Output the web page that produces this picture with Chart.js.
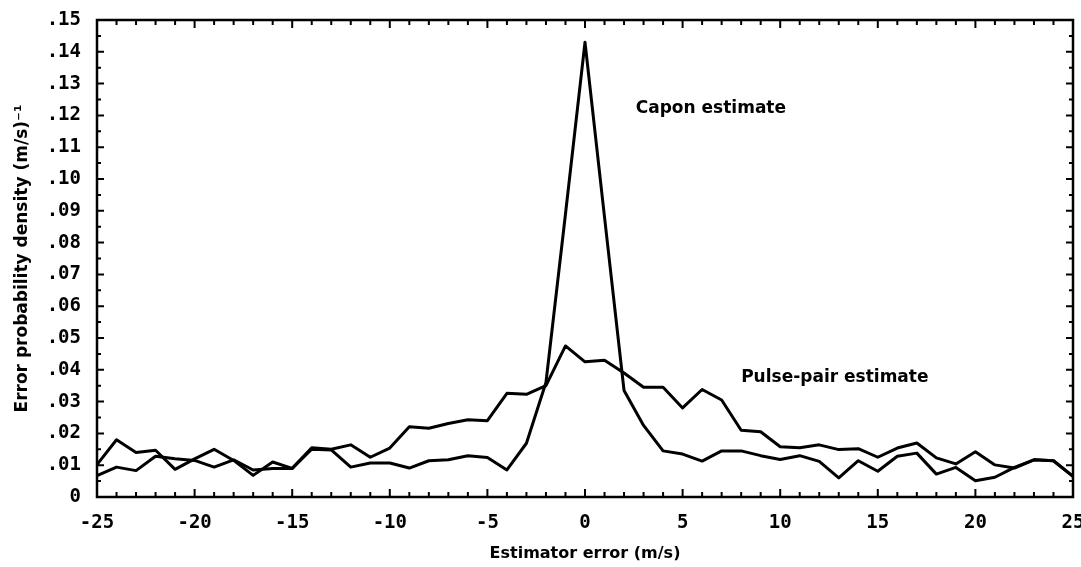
<!DOCTYPE html>
<html>
<head>
<meta charset="utf-8">
<script src="https://cdn.jsdelivr.net/npm/chart.js@4.4.0/dist/chart.umd.min.js"></script>
<style>
  html, body { margin: 0; padding: 0; background: #fff; }
  #wrap { width: 1081px; height: 567px; position: relative; }
</style>
</head>
<body>
<div id="wrap"><canvas id="errChart"></canvas></div>
<script>
// estimator error, m/s
var errors = [-25, -24, -23, -22, -21, -20, -19, -18, -17, -16, -15, -14, -13, -12, -11, -10, -9, -8, -7, -6, -5, -4, -3, -2, -1,
              0, 1, 2, 3, 4, 5, 6, 7, 8, 9, 10, 11, 12, 13, 14, 15, 16, 17, 18, 19, 20, 21, 22, 23, 24, 25];

var pulsePair = [.0102, .018, .014, .0147, .0087, .012, .015, .0115, .0068, .011, .009, .0155, .0150, .0164, .0125, .0154, .0221, .0216, .0231, .0243, .0240, .0326, .0323, .035, .0475,
                 .0425, .043, .039, .0345, .0345, .028, .0338, .0305, .021, .0205, .0158, .0155, .0164, .0149, .0152, .0125, .0154, .017, .0123, .0104, .0142, .0101, .0091, .0117, .0114, .0065];

var capon = [.0067, .0094, .0083, .0128, .012, .0115, .0094, .0117, .0085, .009, .009, .015, .0148, .0094, .0107, .0107, .0091, .0114, .0117, .013, .0124, .0085, .0169, .036, .089,
             .143, .088, .0335, .0225, .0145, .0135, .0113, .0145, .0145, .013, .0118, .013, .0112, .006, .0114, .0081, .0128, .0138, .0072, .0093, .0051, .0062, .0093, .0117, .0114, .0065];

var xTicks = [-25, -20, -15, -10, -5, 0, 5, 10, 15, 20, 25];
var yTicks = [0, .01, .02, .03, .04, .05, .06, .07, .08, .09, .10, .11, .12, .13, .14, .15];

var notes = [
    { text: 'Capon estimate', x: 2.6, y: .122 },
    { text: 'Pulse-pair estimate', x: 8.0, y: .0375 }
];

var tickFont = { family: 'DejaVu Sans Mono', weight: 'bold', size: 19 };

// box round the plot with small inward ticks on all four sides
var frameTicks = {
    id: 'frameTicks',
    afterDatasetsDraw: function (chart) {
        var ctx = chart.ctx, a = chart.chartArea;
        var xs = chart.scales.x, ys = chart.scales.y;
        ctx.save();
        ctx.strokeStyle = '#000';
        ctx.lineWidth = 2.5;
        ctx.strokeRect(a.left, a.top, a.right - a.left, a.bottom - a.top);
        ctx.lineWidth = 2;
        ctx.beginPath();
        for (var v = -25; v <= 25; v++) {
            var px = xs.getPixelForValue(v);
            var len = v % 5 === 0 ? 8 : 5;
            ctx.moveTo(px, a.bottom); ctx.lineTo(px, a.bottom - len);
            ctx.moveTo(px, a.top); ctx.lineTo(px, a.top + len);
        }
        for (var k = 0; k <= 30; k++) {
            var py = ys.getPixelForValue(k * 0.005);
            var l2 = k % 2 === 0 ? 7 : 4;
            ctx.moveTo(a.left, py); ctx.lineTo(a.left + l2, py);
            ctx.moveTo(a.right, py); ctx.lineTo(a.right - l2, py);
        }
        ctx.stroke();

        // curve labels
        ctx.fillStyle = '#000';
        ctx.font = 'bold 17px "DejaVu Sans"';
        ctx.textAlign = 'left';
        ctx.textBaseline = 'middle';
        notes.forEach(function (n) {
            ctx.fillText(n.text, xs.getPixelForValue(n.x), ys.getPixelForValue(n.y));
        });
        ctx.restore();
    }
};

var ctx = document.getElementById('errChart').getContext('2d');

var errChart = new Chart(ctx, {
    type: 'line',
    data: {
        labels: errors,
        datasets: [
            {
                label: 'Pulse-pair estimate',
                data: errors.map((e, i) => ({ x: e, y: pulsePair[i] })),
                borderColor: '#000',
                borderWidth: 3
            },
            {
                label: 'Capon estimate',
                data: errors.map((e, i) => ({ x: e, y: capon[i] })),
                borderColor: '#000',
                borderWidth: 3
            }
        ]
    },
    options: {
        responsive: true,
        maintainAspectRatio: false,
        animation: false,
        layout: { padding: { top: 20, right: 8, left: 0, bottom: 0 } },
        elements: {
            point: { radius: 0 },
            line: { tension: 0, borderJoinStyle: 'round', borderCapStyle: 'round' }
        },
        plugins: {
            legend: { display: false },
            tooltip: { enabled: false }
        },
        scales: {
            x: {
                type: 'linear',
                min: -25,
                max: 25,
                grid: { display: false },
                border: { display: false },
                afterBuildTicks: function (s) { s.ticks = xTicks.map(v => ({ value: v })); },
                afterFit: function (s) { s.height = 70; s.paddingLeft = 0; s.paddingRight = 0; },
                ticks: { color: '#000', font: tickFont, padding: 7, maxRotation: 0, autoSkip: false },
                title: {
                    display: true,
                    text: 'Estimator error (m/s)',
                    color: '#000',
                    font: { family: 'DejaVu Sans', weight: 'bold', size: 16 },
                    padding: { top: 0, bottom: 4 }
                }
            },
            y: {
                min: 0,
                max: 0.15,
                grid: { display: false },
                border: { display: false },
                afterBuildTicks: function (s) { s.ticks = yTicks.map(v => ({ value: v })); },
                afterFit: function (s) { s.width = 97; },
                ticks: {
                    color: '#000',
                    font: tickFont,
                    padding: 8,
                    callback: function (v) {
                        if (v === 0) return '0';
                        return '.' + String(Math.round(v * 100)).padStart(2, '0');
                    }
                },
                title: {
                    display: true,
                    text: 'Error probability density (m/s)⁻¹',
                    color: '#000',
                    font: { family: 'DejaVu Sans', weight: 'bold', size: 17 },
                    padding: { top: 12, bottom: 0 }
                }
            }
        }
    },
    plugins: [frameTicks]
});
</script>
</body>
</html>
